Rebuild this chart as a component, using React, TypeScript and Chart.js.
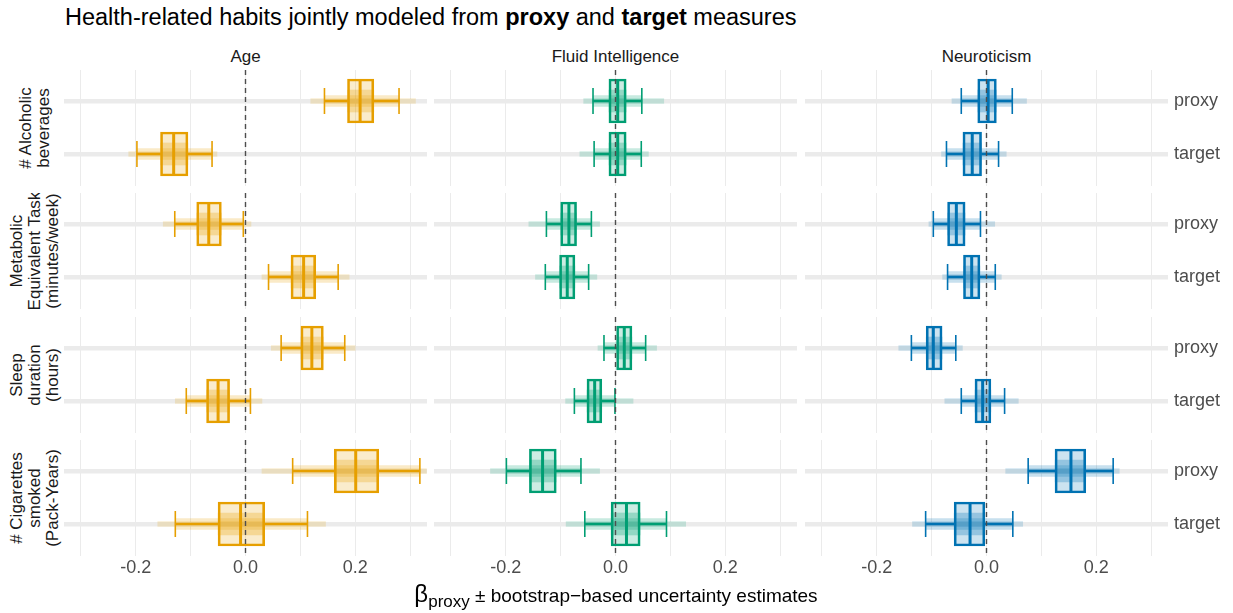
import React, { useEffect, useRef } from "react";
import { Chart, registerables } from "chart.js";

Chart.register(...registerables);

// ---------- DATA ----------
const TRAITS = ["Age", "Fluid Intelligence", "Neuroticism"];
const TRAIT_COLORS = ["#E69F00", "#009E73", "#0072B2"];
const TRAIT_RGB = ["230,159,0", "0,158,115", "0,114,178"];
const HABIT_LABELS = [
  ["# Alcoholic", "beverages"],
  ["Metabolic", "Equivalent Task", "(minutes/week)"],
  ["Sleep", "duration", "(hours)"],
  ["# Cigarettes", "smoked", "(Pack-Years)"],
];
const MEASURES = ["proxy", "target"];
const MEASURE_POS = [0, 1];
const X_TICKS = [-0.3, -0.2, -0.1, 0, 0.1, 0.2, 0.3];
const X_TICK_LABELS = ["", "-0.2", "", "0.0", "", "0.2", ""];
const REFERENCE_VALUE = 0;

// each row: [alcohol proxy, alcohol target, MET proxy, MET target,
//            sleep proxy, sleep target, cigarettes proxy, cigarettes target]
// rows of the outer array: Age, Fluid Intelligence, Neuroticism
const Q1 = [
  [0.186, -0.155, -0.089, 0.083, 0.101, -0.071, 0.162, -0.05],
  [-0.012, -0.012, -0.1, -0.102, 0.002, -0.052, -0.157, -0.008],
  [-0.016, -0.043, -0.071, -0.042, -0.11, -0.021, 0.125, -0.059],
];
const MEDIAN = [
  [0.209, -0.131, -0.067, 0.106, 0.121, -0.05, 0.201, -0.009],
  [0.004, 0.004, -0.085, -0.088, 0.016, -0.038, -0.133, 0.02],
  [0.003, -0.026, -0.055, -0.027, -0.097, -0.007, 0.154, -0.03],
];
const Q3 = [
  [0.234, -0.105, -0.044, 0.128, 0.142, -0.029, 0.243, 0.035],
  [0.0195, 0.0195, -0.071, -0.074, 0.03, -0.025, -0.108, 0.045],
  [0.018, -0.009, -0.039, -0.012, -0.081, 0.008, 0.181, -0.003],
];
const WHISKER_LO = [
  [0.144, -0.198, -0.129, 0.042, 0.065, -0.108, 0.086, -0.128],
  [-0.041, -0.039, -0.126, -0.128, -0.021, -0.075, -0.199, -0.056],
  [-0.046, -0.073, -0.097, -0.071, -0.137, -0.046, 0.076, -0.111],
];
const WHISKER_HI = [
  [0.28, -0.061, -0.004, 0.169, 0.181, 0.009, 0.318, 0.113],
  [0.048, 0.047, -0.044, -0.049, 0.055, -0.001, -0.063, 0.093],
  [0.047, 0.022, -0.011, 0.016, -0.056, 0.033, 0.231, 0.048],
];
const POINTS_LO = [
  [0.119, -0.213, -0.15, 0.03, 0.047, -0.128, 0.03, -0.16],
  [-0.058, -0.065, -0.158, -0.146, -0.032, -0.091, -0.228, -0.09],
  [-0.063, -0.082, -0.105, -0.08, -0.16, -0.076, 0.035, -0.135],
];
const POINTS_HI = [
  [0.31, -0.052, 0.01, 0.189, 0.2, 0.03, 0.33, 0.146],
  [0.088, 0.06, -0.029, -0.034, 0.075, 0.032, -0.029, 0.128],
  [0.073, 0.036, 0.015, 0.027, -0.044, 0.058, 0.242, 0.066],
];

// ---------- LAYOUT ----------
const FONT = '"Liberation Sans", Arial, Helvetica, sans-serif';
const X_MIN = -0.331;
const X_MAX = 0.331;
const Y_MIN = -0.585;
const Y_MAX = 1.604;
const PANEL_LEFT = [64, 434, 805];
const PANEL_TOP = [70, 193, 317, 440];
const PANEL_W = 363;
const PANEL_H = 116;
const RIGHT_AXIS_W = 65;
const BOTTOM_AXIS_H = 30;
const STRIP_LEFT = 6;
const STRIP_W = 58;
const STRIP_LINE_H = 18;
const STRIP_TEXT_W = 220;

function Panel({ t, h }: { t: number; h: number }) {
  const ref = useRef<HTMLCanvasElement | null>(null);
  const isBottom = h === HABIT_LABELS.length - 1;
  const isRight = t === TRAITS.length - 1;
  const w = PANEL_W + (isRight ? RIGHT_AXIS_W : 0);
  const ht = PANEL_H + (isBottom ? BOTTOM_AXIS_H : 0);

  useEffect(() => {
    if (!ref.current) return;
    const col = TRAIT_COLORS[t];
    const rgba = (a: number) => `rgba(${TRAIT_RGB[t]},${a})`;
    const idx = MEASURE_POS.map((_, m) => h * 2 + m);
    const floating = (lo: number[][], hi: number[][]) =>
      MEASURE_POS.map((p, m) => ({ y: p, x: [lo[t][idx[m]], hi[t][idx[m]]] }));

    const chart = new Chart(ref.current, {
      type: "bar",
      data: {
        datasets: [
          {
            type: "scatter",
            label: "reference",
            data: [
              { x: REFERENCE_VALUE, y: Y_MIN },
              { x: REFERENCE_VALUE, y: Y_MAX },
            ],
            showLine: true,
            borderColor: "#4D4D4D",
            borderWidth: 1.4,
            borderDash: [5, 4],
            pointRadius: 0,
            order: 0,
          } as any,
          {
            type: "scatter",
            label: "median",
            data: MEASURE_POS.map((p, m) => ({ x: MEDIAN[t][idx[m]], y: p })),
            pointStyle: "line",
            pointRadius: 21,
            pointRotation: 90,
            pointBorderColor: col,
            pointBorderWidth: 3,
            order: 1,
          } as any,
          {
            type: "scatter",
            label: "caps",
            data: MEASURE_POS.flatMap((p, m) => [
              { x: WHISKER_LO[t][idx[m]], y: p },
              { x: WHISKER_HI[t][idx[m]], y: p },
            ]),
            pointStyle: "line",
            pointRadius: 13,
            pointRotation: 90,
            pointBorderColor: col,
            pointBorderWidth: 1.6,
            order: 2,
          } as any,
          {
            type: "bar",
            label: "box",
            data: floating(Q1, Q3),
            backgroundColor: rgba(0.2),
            borderColor: col,
            borderWidth: 2,
            borderSkipped: false,
            barThickness: 44,
            grouped: false,
            order: 3,
          } as any,
          {
            type: "bar",
            label: "whiskers",
            data: MEASURE_POS.flatMap((p, m) => [
              { y: p, x: [WHISKER_LO[t][idx[m]], Q1[t][idx[m]]] },
              { y: p, x: [Q3[t][idx[m]], WHISKER_HI[t][idx[m]]] },
            ]),
            backgroundColor: col,
            barThickness: 2,
            grouped: false,
            order: 4,
          } as any,
          {
            type: "bar",
            label: "cloud core",
            data: floating(Q1, Q3),
            backgroundColor: rgba(0.28),
            barThickness: 22,
            grouped: false,
            order: 5,
          } as any,
          {
            type: "bar",
            label: "cloud mid",
            data: floating(WHISKER_LO, WHISKER_HI),
            backgroundColor: rgba(0.22),
            barThickness: 11,
            grouped: false,
            order: 6,
          } as any,
          {
            type: "bar",
            label: "cloud tail",
            data: floating(POINTS_LO, POINTS_HI),
            backgroundColor: rgba(0.18),
            barThickness: 5,
            grouped: false,
            order: 7,
          } as any,
        ],
      },
      options: {
        indexAxis: "y",
        animation: false,
        responsive: false,
        devicePixelRatio: 1,
        events: [],
        layout: { padding: 0, autoPadding: false } as any,
        plugins: {
          legend: { display: false },
          tooltip: { enabled: false },
          title: { display: false },
        },
        scales: {
          x: {
            type: "linear",
            min: X_MIN,
            max: X_MAX,
            offset: false,
            beginAtZero: false,
            afterBuildTicks: (s: any) => {
              s.ticks = X_TICKS.map((v) => ({ value: v }));
            },
            afterFit: (s: any) => {
              s.height = isBottom ? BOTTOM_AXIS_H : 0;
              s.paddingLeft = 0;
              s.paddingRight = 0;
            },
            grid: { color: "#EBEBEB", lineWidth: 1, drawTicks: false, offset: false },
            border: { display: false },
            ticks: {
              display: isBottom,
              autoSkip: false,
              maxRotation: 0,
              padding: 1,
              color: "#4D4D4D",
              font: { family: FONT, size: 18 },
              callback: (v: any) => {
                const k = X_TICKS.findIndex((x) => Math.abs(x - Number(v)) < 1e-9);
                return k >= 0 ? X_TICK_LABELS[k] : "";
              },
            },
          },
          y: {
            type: "linear",
            position: "right",
            reverse: true,
            min: Y_MIN,
            max: Y_MAX,
            offset: false,
            afterBuildTicks: (s: any) => {
              s.ticks = MEASURE_POS.map((v) => ({ value: v }));
            },
            afterFit: (s: any) => {
              s.width = isRight ? RIGHT_AXIS_W : 0;
              s.paddingTop = 0;
              s.paddingBottom = 0;
            },
            grid: { color: "#EBEBEB", lineWidth: 4.5, drawTicks: false, offset: false },
            border: { display: false },
            ticks: {
              display: isRight,
              autoSkip: false,
              padding: 6,
              color: "#4D4D4D",
              font: { family: FONT, size: 18 },
              callback: (v: any) => {
                const k = MEASURE_POS.indexOf(Number(v));
                return k >= 0 ? MEASURES[k] : "";
              },
            },
          },
        } as any,
      } as any,
    } as any);
    return () => chart.destroy();
  }, [t, h]);

  return (
    <div
      style={{
        position: "absolute",
        left: PANEL_LEFT[t],
        top: PANEL_TOP[h],
        width: w,
        height: ht,
      }}
    >
      <canvas
        ref={ref}
        width={w}
        height={ht}
        style={{ display: "block", width: w, height: ht }}
      />
    </div>
  );
}

export default function App() {
  return (
    <div
      style={{
        position: "absolute",
        left: 0,
        top: 0,
        width: 1233,
        height: 613,
        background: "#FFFFFF",
        fontFamily: FONT,
        overflow: "hidden",
      }}
    >
      <div
        style={{
          position: "absolute",
          left: 65,
          top: 3,
          fontSize: 23.5,
          lineHeight: "28px",
          color: "#000",
          whiteSpace: "nowrap",
        }}
      >
        Health-related habits jointly modeled from <b>proxy</b> and <b>target</b> measures
      </div>

      {TRAITS.map((name, t) => (
        <div
          key={name}
          style={{
            position: "absolute",
            left: PANEL_LEFT[t],
            top: 47,
            width: PANEL_W,
            textAlign: "center",
            fontSize: 17,
            lineHeight: "20px",
            color: "#1A1A1A",
          }}
        >
          {name}
        </div>
      ))}

      {HABIT_LABELS.map((lines, h) => {
        const boxH = lines.length * STRIP_LINE_H;
        return (
          <div
            key={h}
            style={{
              position: "absolute",
              left: STRIP_LEFT,
              top: PANEL_TOP[h],
              width: STRIP_W,
              height: PANEL_H,
              overflow: "hidden",
            }}
          >
            <div
              style={{
                position: "absolute",
                width: STRIP_TEXT_W,
                height: boxH,
                left: STRIP_W / 2 - STRIP_TEXT_W / 2,
                top: PANEL_H / 2 - boxH / 2,
                transform: "rotate(-90deg)",
                transformOrigin: "50% 50%",
                whiteSpace: "nowrap",
                textAlign: "center",
                fontSize: 17,
                lineHeight: `${STRIP_LINE_H}px`,
                color: "#1A1A1A",
              }}
            >
              {lines.map((l, i) => (
                <div key={i}>{l}</div>
              ))}
            </div>
          </div>
        );
      })}

      {HABIT_LABELS.map((_, h) =>
        TRAITS.map((_, t) => <Panel key={`${h}-${t}`} t={t} h={h} />)
      )}

      <div
        style={{
          position: "absolute",
          left: PANEL_LEFT[0],
          top: 579,
          width: PANEL_LEFT[2] + PANEL_W - PANEL_LEFT[0],
          textAlign: "center",
          fontSize: 19,
          lineHeight: "30px",
          color: "#000",
          whiteSpace: "nowrap",
        }}
      >
        <span style={{ fontSize: 24 }}>β</span>
        <span style={{ fontSize: 17, verticalAlign: "-5px" }}>proxy</span>
        <span> ± bootstrap−based uncertainty estimates</span>
      </div>
    </div>
  );
}
